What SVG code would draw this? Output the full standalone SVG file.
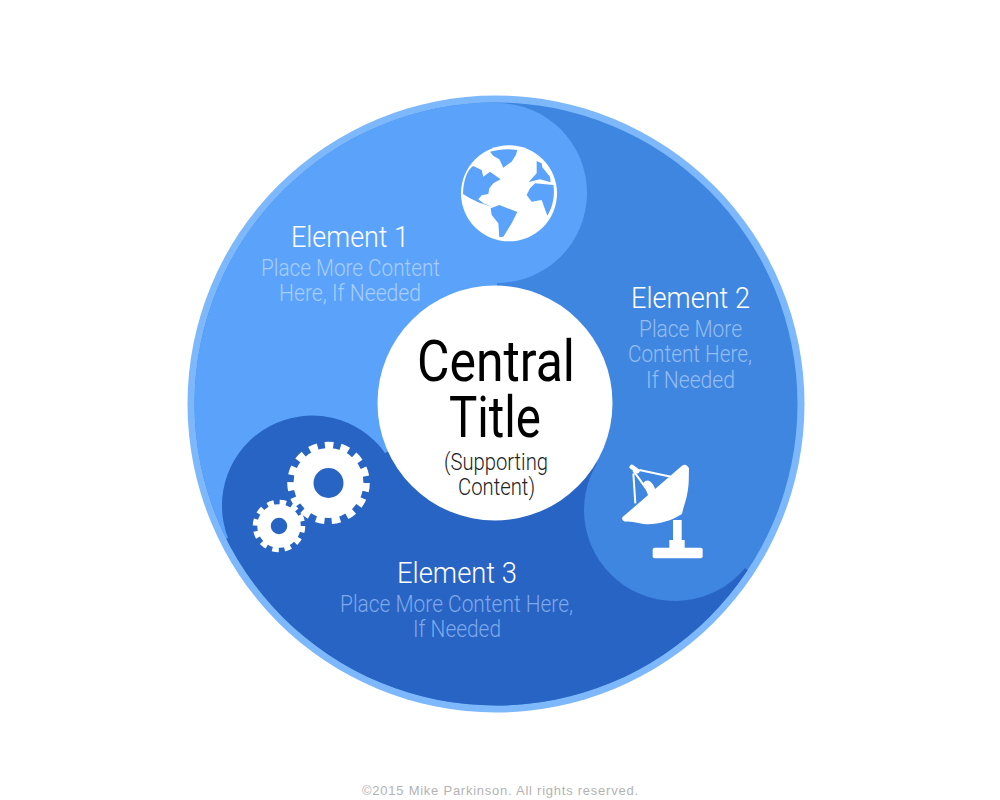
<svg xmlns="http://www.w3.org/2000/svg" width="1000" height="800" viewBox="0 0 1000 800">
<style>
text{font-family:"Liberation Sans Narrow",Roboto,"Liberation Sans",sans-serif;text-anchor:start}
.h{font-family:Roboto,"Liberation Sans",sans-serif;font-weight:300;font-size:30px;fill:#fff}
.s{font-family:Roboto,"Liberation Sans",sans-serif;font-weight:300;font-size:24px}
.t{font-family:"Liberation Sans Narrow",Roboto,sans-serif;font-size:58px;fill:#000}
.u{font-family:Roboto,"Liberation Sans",sans-serif;font-weight:300;font-size:23px;fill:#222}
.w{fill:#fff}
.ln{stroke:#fff;fill:none;stroke-width:6}
</style>
<defs><clipPath id="disc"><circle cx="496" cy="404" r="301.5"/></clipPath></defs>
<circle id="ring" cx="496" cy="404" r="308.5" fill="#7db8fc"/>
<g clip-path="url(#disc)">
<rect id="base" x="180" y="90" width="630" height="630" fill="#3f86e0"/>
<path id="shape1" d="M497 103A90 90 0 0 1 497 283L496 404L300 515L100 600L100 90L497 90Z" fill="#5ba3fa"/>
<path id="shape3" d="M100 588L228 538A90 90 0 0 1 385 453L496 404L675 510L745 568L900 695L900 800L100 800Z" fill="#2864c4"/>
<circle id="shape2" cx="675" cy="510" r="91" fill="#3f86e0"/>
</g>
<g id="element1">
<g transform="translate(440 120) scale(.33333)">
<circle cx="207" cy="220" r="144" class="w"/>
<path fill="#5ba3fa" d="M150 95C175 88 205 85 232 90L228 104L215 125L190 143L178 118L160 108Z"/>
<path fill="#5ba3fa" d="M100 138C80 150 70 185 69 222L90 235L118 248L155 260L130 250L115 238L125 226L145 222L148 205L160 190L182 178L150 155L130 170L125 150Z"/>
<path fill="#5ba3fa" d="M152 265L178 255L232 276L215 310L190 350L178 352L175 310L155 285Z"/>
<path fill="#5ba3fa" d="M290 123L305 130L307 142L330 170L332 187L300 178L266 186L290 160Z"/>
<path fill="#5ba3fa" d="M340 195C345 220 340 260 322 287L305 240L275 245L260 225L270 205L285 190Z"/>
</g>
<text class="h" x="291" y="247" textLength="118" lengthAdjust="spacingAndGlyphs">Element 1</text>
<text class="s" x="261" y="276" textLength="179" lengthAdjust="spacingAndGlyphs" fill="#a9cefc">Place More Content</text>
<text class="s" x="279" y="301" textLength="142" lengthAdjust="spacingAndGlyphs" fill="#a9cefc">Here, If Needed</text>
</g>
<g id="element2">
<g transform="translate(580 440) scale(.33333)">
<path class="w" d="M127 232L305 78Q318 68 327 85C326 110 328 130 322 160C318 185 310 200 306 222C270 245 225 256 190 252C165 248 150 243 137 245Q124 242 127 232Z"/>
<rect class="w" x="279" y="240" width="26" height="65"/>
<rect class="w" x="268" y="300" width="46" height="30"/>
<rect class="w" x="218" y="323" width="150" height="32" rx="6"/>
<path class="ln" d="M160 92L205 155M160 100L166 190M178 90L280 112"/>
<rect class="w" x="147" y="80" width="34" height="14" rx="5" transform="rotate(35 164 87)"/>
<path class="w" d="M190 128Q205 112 220 135L228 152L205 168Z"/>
</g>
<text class="h" x="631" y="308" textLength="119" lengthAdjust="spacingAndGlyphs">Element 2</text>
<text class="s" x="639" y="337" textLength="103" lengthAdjust="spacingAndGlyphs" fill="#95bdf2">Place More</text>
<text class="s" x="628" y="362" textLength="124" lengthAdjust="spacingAndGlyphs" fill="#95bdf2">Content Here,</text>
<text class="s" x="646" y="388" textLength="89" lengthAdjust="spacingAndGlyphs" fill="#95bdf2">If Needed</text>
</g>
<g id="element3">
<circle cx="328.500" cy="483" r="25" fill="none" stroke="#fff" stroke-width="20"/>
<circle cx="328.500" cy="483" r="37.500" fill="none" stroke="#fff" stroke-width="7.500" stroke-dasharray="8.500 7.208"/>
<circle cx="279" cy="526" r="15" fill="none" stroke="#fff" stroke-width="13.500"/>
<circle cx="279" cy="526" r="23.500" fill="none" stroke="#fff" stroke-width="5.500" stroke-dasharray="6.500 5.800"/>
<text class="h" x="397" y="583" textLength="120" lengthAdjust="spacingAndGlyphs">Element 3</text>
<text class="s" x="340" y="612" textLength="233" lengthAdjust="spacingAndGlyphs" fill="#7fa9ea">Place More Content Here,</text>
<text class="s" x="413" y="637" textLength="88" lengthAdjust="spacingAndGlyphs" fill="#7fa9ea">If Needed</text>
</g>
<g id="center">
<circle cx="495" cy="403" r="117.500" fill="#fff"/>
<text class="t" x="417" y="381" textLength="158" lengthAdjust="spacingAndGlyphs">Central</text>
<text class="t" x="449" y="437" textLength="92" lengthAdjust="spacingAndGlyphs">Title</text>
<text class="u" x="444" y="470" textLength="104" lengthAdjust="spacingAndGlyphs">(Supporting</text>
<text class="u" x="458" y="495" textLength="77" lengthAdjust="spacingAndGlyphs">Content)</text>
</g>
<text id="credit" x="362" y="795" font-size="13" fill="#b3b3b3" style="font-family:'Liberation Sans',sans-serif" textLength="276">©2015 Mike Parkinson. All rights reserved.</text>
<g id="connectors"/>
</svg>
